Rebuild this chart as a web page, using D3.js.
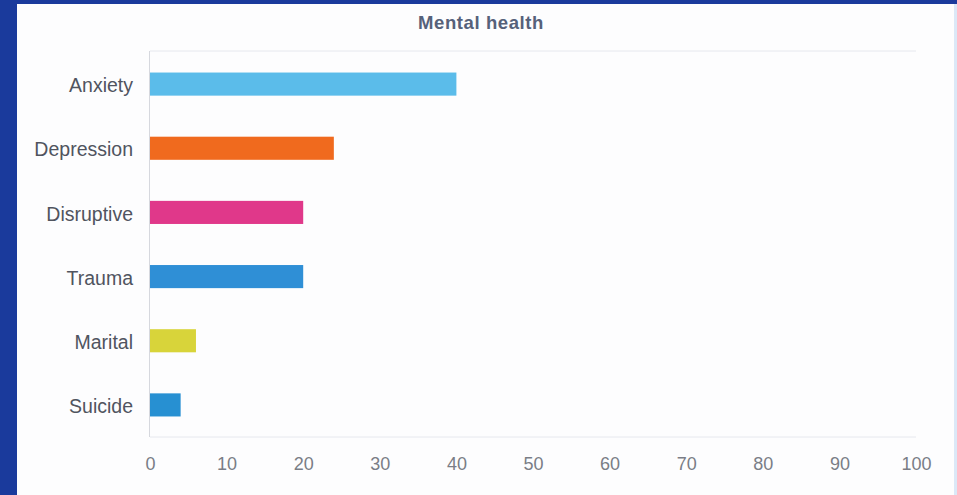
<!DOCTYPE html>
<html><head><meta charset="utf-8">
<script src="https://cdn.jsdelivr.net/npm/d3@7/dist/d3.min.js"></script>
<style>
html,body{margin:0;padding:0;background:#fff;}
svg{display:block;}
</style></head>
<body>
<svg id="chart" width="957" height="495"></svg>
<script>
const title = "Mental health";
const categories = ["Anxiety","Depression","Disruptive","Trauma","Marital","Suicide"];
const values = [40, 24, 20, 20, 6, 4];
const colors = ["#5bbcea","#f06a1e","#e0388a","#2f8fd6","#d8d43a","#2790d2"];
const tickValues = [0,10,20,30,40,50,60,70,80,90,100];

const svg = d3.select("#chart");
const W = 957, H = 495;
svg.append("rect").attr("width",W).attr("height",H).attr("fill","#fdfdfe");
// scanned blue frame
svg.append("rect").attr("x",0).attr("y",0).attr("width",17).attr("height",H).attr("fill","#1a3a9c");
svg.append("path").attr("d","M0,0 H957 V4 H17 V7 H0 Z").attr("fill","#1a3a9c");
svg.append("rect").attr("x",954).attr("y",4).attr("width",3).attr("height",H).attr("fill","#dbe8f7");

const m = {left:150, right:916, top:51, bottom:437};
const x = d3.scaleLinear().domain([0,100]).range([m.left, m.right]);
const y = d3.scaleBand().domain(categories).range([m.top+1, m.bottom]).paddingInner(0.64).paddingOuter(0.32);

// grid lines top/bottom
svg.append("line").attr("x1",m.left).attr("x2",m.right).attr("y1",m.top).attr("y2",m.top).attr("stroke","#e6e8ee").attr("stroke-width",1);
svg.append("line").attr("x1",m.left).attr("x2",m.right).attr("y1",m.bottom).attr("y2",m.bottom).attr("stroke","#e6e8ee").attr("stroke-width",1);
svg.append("line").attr("x1",m.left-0.5).attr("x2",m.left-0.5).attr("y1",m.top).attr("y2",m.bottom).attr("stroke","#d6d8de").attr("stroke-width",1);

// bars
svg.append("g").selectAll("rect").data(categories).join("rect")
  .attr("x", x(0))
  .attr("y", d => y(d))
  .attr("width", (d,i) => x(values[i]) - x(0))
  .attr("height", y.bandwidth())
  .attr("fill", (d,i) => colors[i]);

// y axis labels
const yAxis = d3.axisLeft(y).tickSize(0).tickPadding(17);
const gy = svg.append("g").attr("transform",`translate(${m.left},0)`).call(yAxis);
gy.select(".domain").remove();
gy.selectAll("text").attr("dy","0.42em").attr("font-family","Liberation Sans, Arial, sans-serif").attr("font-size",19.5).attr("fill","#50545f");

// x axis labels
const xAxis = d3.axisBottom(x).tickValues(tickValues).tickSize(0).tickPadding(20);
const gx = svg.append("g").attr("transform",`translate(0,${m.bottom})`).call(xAxis);
gx.select(".domain").remove();
gx.selectAll("text").attr("font-family","Liberation Sans, Arial, sans-serif").attr("font-size",18).attr("fill","#7a7d86");

// title
svg.append("text").attr("x",481).attr("y",29).attr("text-anchor","middle")
  .attr("font-family","Liberation Sans, Arial, sans-serif").attr("font-weight","bold").attr("font-size",18.5)
  .attr("letter-spacing",0.6)
  .attr("fill","#56617a").text(title);
</script>
</body></html>
